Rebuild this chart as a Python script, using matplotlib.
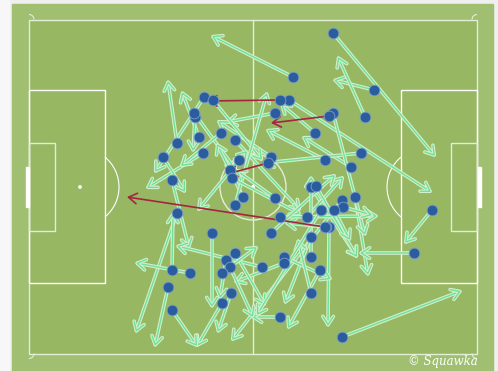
import matplotlib
matplotlib.use("Agg")
import matplotlib.pyplot as plt
from matplotlib.patches import Rectangle, Arc, Circle
import matplotlib.patheffects as pe

# ---- pass data (image-pixel pitch coordinates) ----
pass_x0 = [333, 293, 374, 365, 289, 315, 351, 325, 361, 275, 271, 204, 213, 177, 199, 203,
           195, 194, 163, 172, 221, 235, 239, 243, 235, 230, 232, 311, 342, 355, 280, 307,
           271, 329, 311, 284, 284, 262, 311, 320, 311, 280, 342, 432, 414, 212, 226, 231,
           222, 172, 168, 177, 190, 172, 235, 321, 333, 316, 275, 343, 230, 222, 326, 334]
pass_y0 = [33, 77, 90, 117, 100, 133, 167, 160, 153, 113, 157, 97, 100, 143, 137, 153,
           117, 113, 157, 180, 133, 140, 160, 197, 205, 170, 178, 187, 200, 197, 217, 217,
           233, 227, 237, 257, 263, 267, 257, 270, 293, 317, 337, 210, 253, 233, 260, 293,
           303, 310, 287, 213, 273, 270, 253, 210, 113, 186, 198, 207, 267, 273, 227, 210]
pass_x1 = [435, 212, 334, 338, 431, 281, 303, 267, 264, 227, 218, 155, 262, 168, 182, 147,
           193, 236, 185, 189, 181, 300, 198, 217, 267, 247, 300, 357, 232, 368, 377, 343,
           335, 328, 285, 331, 235, 177, 311, 288, 298, 252, 461, 405, 360, 212, 220, 218,
           197, 197, 155, 136, 136, 173, 265, 257, 365, 357, 236, 372, 253, 257, 286, 350]
pass_y1 = [156, 36, 80, 57, 192, 104, 137, 130, 163, 122, 121, 172, 160, 81, 92, 188,
           151, 170, 192, 248, 166, 210, 210, 144, 93, 151, 214, 257, 340, 275, 216, 177,
           175, 326, 303, 279, 282, 246, 177, 328, 240, 317, 291, 243, 253, 307, 298, 332,
           346, 346, 346, 332, 263, 213, 305, 315, 235, 257, 170, 215, 317, 247, 223, 240]

# failed passes (red)
fail_x0 = [280, 329, 268, 325]
fail_y0 = [100, 116, 163, 227]
fail_x1 = [207, 271, 227, 127]
fail_y1 = [101, 123, 174, 197]

W, H = 498, 371
fig = plt.figure(figsize=(W / 100, H / 100), dpi=100, facecolor="#efefef")
ax = fig.add_axes([0, 0, 1, 1])
ax.set_xlim(0, W)
ax.set_ylim(H, 0)
ax.axis("off")

# ---- pitch ----
ax.add_patch(Rectangle((0, 0), 9, H, color="#f7f7f7", zorder=0))
ax.add_patch(Rectangle((12, 4), 481, 367, color="#a0bf71", zorder=0))
ax.add_patch(Rectangle((29, 19.5), 448, 334, color="#97b763", zorder=0))
lc = "#e4edd6"
lw = 1.0
ax.add_patch(Rectangle((29, 19.5), 448, 334, fill=False, ec=lc, lw=lw, zorder=1))
ax.plot([253, 253], [19.5, 353.5], color=lc, lw=lw, zorder=1)
ax.add_patch(Circle((253, 187), 33, fill=False, ec=lc, lw=lw, zorder=1))
ax.add_patch(Rectangle((29, 90), 76, 193, fill=False, ec="white", lw=lw, zorder=1))
ax.add_patch(Rectangle((401, 90), 76, 193, fill=False, ec="white", lw=lw, zorder=1))
ax.add_patch(Rectangle((29, 142.5), 26, 88.5, fill=False, ec=lc, lw=lw, zorder=1))
ax.add_patch(Rectangle((451, 142.5), 26, 88.5, fill=False, ec=lc, lw=lw, zorder=1))
ax.add_patch(Arc((80, 187), 78, 78, theta1=-50, theta2=50, ec="white", lw=0.8, zorder=1))
ax.add_patch(Arc((426, 187), 78, 78, theta1=130, theta2=230, ec="white", lw=0.8, zorder=1))
ax.add_patch(Rectangle((25.5, 167), 3, 40, color="white", zorder=1))
ax.add_patch(Rectangle((477.5, 167), 3, 40, color="white", zorder=1))
for cx, cy in [(80, 187), (426, 187), (253, 187)]:
    ax.add_patch(Circle((cx, cy), 1.2, color="white", zorder=1))
for (cx, cy, t1, t2) in [(29, 19.5, 270, 360), (477, 19.5, 180, 270),
                         (29, 353.5, 0, 90), (477, 353.5, 90, 180)]:
    ax.add_patch(Arc((cx, cy), 10, 10, theta1=t1, theta2=t2, ec=lc, lw=0.8, zorder=1))

# ---- passes ----
halo = [pe.Stroke(linewidth=2.6, foreground="#d2f0cc"), pe.Normal()]
for x0, y0, x1, y1 in zip(pass_x0, pass_y0, pass_x1, pass_y1):
    ax.annotate("", xy=(x1, y1), xytext=(x0, y0),
                arrowprops=dict(arrowstyle="->,head_length=0.6,head_width=0.38",
                                color="#6fe09a", lw=1.0, shrinkA=0, shrinkB=0,
                                path_effects=halo),
                zorder=2)
for x0, y0, x1, y1 in zip(fail_x0, fail_y0, fail_x1, fail_y1):
    ax.annotate("", xy=(x1, y1), xytext=(x0, y0),
                arrowprops=dict(arrowstyle="->,head_length=0.6,head_width=0.38",
                                color="#a3263f", lw=1.2, shrinkA=0, shrinkB=0),
                zorder=3)

ax.scatter(pass_x0 + fail_x0, pass_y0 + fail_y0, s=60, color="#2a5c9e",
           edgecolors="#7d9ecb", linewidths=0.6, zorder=4)

ax.text(478, 362, "\u00a9 Squawka", color="white", fontsize=8.5, style="italic",
        family="DejaVu Serif", ha="right", va="center", zorder=5)

fig.savefig("out.png", dpi=100, facecolor=fig.get_facecolor())
